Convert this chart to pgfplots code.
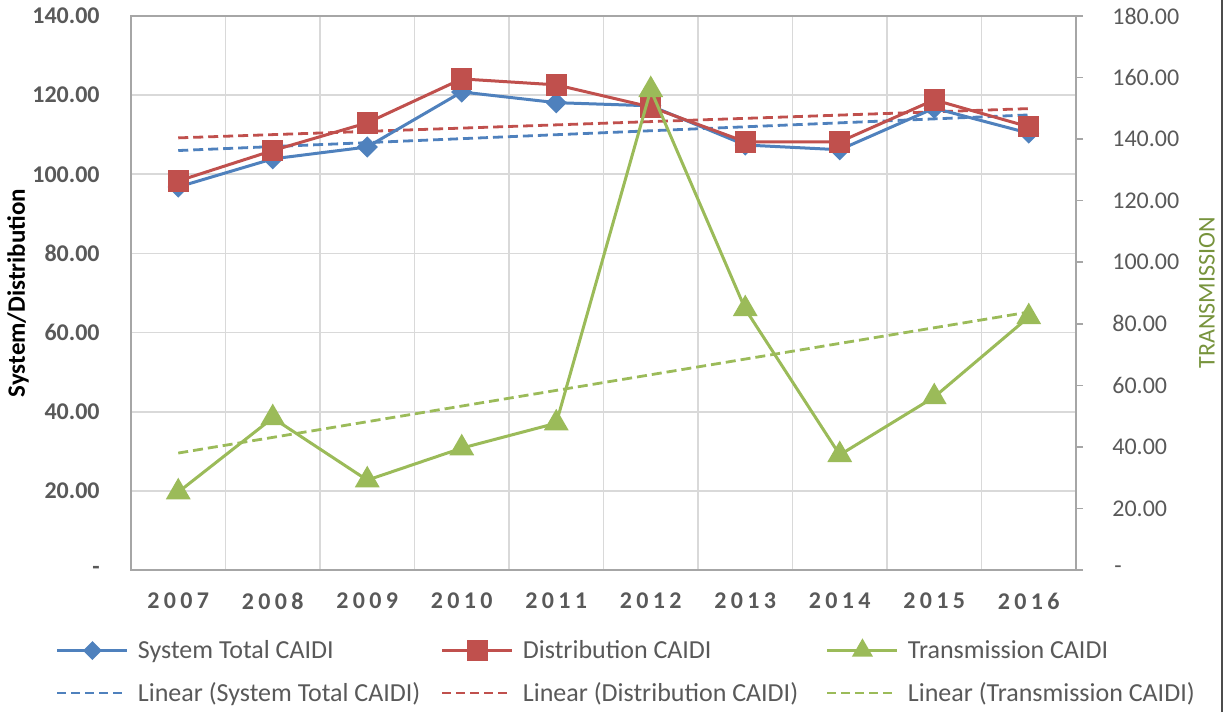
\documentclass[border=0pt]{standalone}
\usepackage{pgfplots}
\pgfplotsset{compat=1.18}
\usepackage{fontspec}
\setmainfont{Carlito}
\newfontfamily\xfont{Carlito}[LetterSpace=18]
\definecolor{cblue}{HTML}{4F81BD}
\definecolor{cred}{HTML}{C0504D}
\definecolor{cgreen}{HTML}{9BBB59}
\definecolor{ctitle}{HTML}{77933C}
\definecolor{ctext}{HTML}{595959}
\definecolor{cgrid}{HTML}{D9D9D9}
\definecolor{cframe}{HTML}{A6A6A6}
\newcommand{\lgd}[1]{\makebox[151.5pt][l]{#1}}
\begin{document}
\begin{tikzpicture}
\useasboundingbox (-65.5pt,-71pt) rectangle (547pt,285pt);
\pgfplotsset{
  base/.style={
    at={(0,0)}, anchor=south west,
    width=472.5pt, height=277pt, scale only axis,
    xmin=0.5, xmax=10.5,
    /pgf/number format/assume math mode=true,
  }
}
\begin{axis}[base,
  ymin=0, ymax=140,
  ytick={0,20,...,140},
  yticklabels={{-\hspace{6pt}},20.00,40.00,60.00,80.00,100.00,120.00,140.00},
  yticklabel style={anchor=east, inner sep=0pt, xshift=-15.5pt, font=\fontsize{12}{14}\selectfont\bfseries, text=ctext},
  xtick={1,...,10},
  xticklabels={2007,2008,2009,2010,2011,2012,2013,2014,2015,2016},
  xticklabel style={anchor=center, inner sep=0pt, yshift=-15.5pt, font=\fontsize{12}{14}\selectfont\xfont\bfseries, text=ctext},
  minor xtick={1.5,2.5,...,9.5},
  xminorgrids, ymajorgrids,
  major tick length=0pt, minor tick length=0pt,
  grid style={cgrid, line width=0.8pt},
  minor grid style={cgrid, line width=0.8pt},
  axis line style={cframe, line width=1.4pt},
  ylabel={System/Distribution},
  ylabel style={at={(axis description cs:-0.1196,0.5)}, anchor=center, font=\fontsize{12.5}{14}\selectfont\bfseries, text=black},
]
\addplot[cblue, line width=1.4pt, dash pattern=on 5pt off 2.5pt] coordinates {(1,106.0) (10,115.0)};
\addplot[cred, line width=1.4pt, dash pattern=on 5pt off 2.5pt] coordinates {(1,109.2) (10,116.6)};
\addplot[cblue, line width=1.5pt, mark=square*, mark size=3pt, mark options={rotate=45, solid, fill=cblue}] coordinates {
(1,96.8) (2,103.9) (3,106.9) (4,120.8) (5,118.1) (6,117.3) (7,107.4) (8,106.2) (9,116.7) (10,110.4)};
\addplot[cred, line width=1.5pt, mark=square*, mark size=4.6pt, mark options={solid, fill=cred}] coordinates {
(1,98.3) (2,106.0) (3,113.0) (4,124.1) (5,122.6) (6,117.0) (7,108.2) (8,108.2) (9,118.8) (10,112.0)};
\end{axis}
\begin{axis}[base,
  ymin=0, ymax=180,
  axis x line=none,
  axis y line*=right,
  ytick={0,20,...,180},
  yticklabels={{\hspace{1pt}-},20.00,40.00,60.00,80.00,100.00,120.00,140.00,160.00,180.00},
  yticklabel style={anchor=west, inner sep=0pt, xshift=14.5pt, font=\fontsize{12}{14}\selectfont, text=ctext},
  tick align=outside, major tick length=3.5pt,
  tick style={cframe, line width=0.8pt},
  axis line style={cframe, line width=1.4pt},
  ylabel={TRANSMISSION},
  ylabel style={at={(axis description cs:1.1386,0.5)}, anchor=center, font=\fontsize{12}{14}\selectfont, text=ctitle},
  legend columns=3,
  legend style={at={(-0.0794,-0.1264)}, anchor=north west, draw=none, fill=none,
    inner sep=0pt, outer sep=0pt,
    nodes={inner sep=0pt},
    font=\fontsize{13}{15}\selectfont, text=ctext,
    /tikz/every odd column/.append style={column sep=4.5pt},
    /tikz/every even column/.append style={column sep=0pt},
    row sep=10.5pt},
  legend cell align=left,
  legend image code/.code={
    \draw[#1] (0pt,0pt) -- (35pt,0pt);
    \draw[#1, mark repeat=2, mark phase=2] plot coordinates {(0pt,0pt) (17.5pt,0pt) (35pt,0pt)};
  },
]
\addlegendimage{cblue, line width=1.5pt, mark=square*, mark size=2.6pt, mark options={rotate=45, solid, fill=cblue}}
\addlegendentry{\lgd{System Total CAIDI}}
\addlegendimage{cred, line width=1.5pt, mark=square*, mark size=4.4pt, mark options={solid, fill=cred}}
\addlegendentry{\lgd{Distribution CAIDI}}
\addlegendimage{cgreen, line width=1.5pt, mark=triangle*, mark size=4.6pt, mark options={solid, fill=cgreen}}
\addlegendentry{\lgd{Transmission CAIDI}}
\addlegendimage{cblue, line width=1.4pt, dash pattern=on 4.5pt off 2.5pt}
\addlegendentry{\lgd{Linear (System Total CAIDI)}}
\addlegendimage{cred, line width=1.4pt, dash pattern=on 4.5pt off 2.5pt}
\addlegendentry{\lgd{Linear (Distribution CAIDI)}}
\addlegendimage{cgreen, line width=1.4pt, dash pattern=on 4.5pt off 2.5pt}
\addlegendentry{\lgd{Linear (Transmission CAIDI)}}
\addplot[forget plot, cgreen, line width=1.4pt, dash pattern=on 5pt off 2.5pt] coordinates {(1,38.0) (10,83.8)};
\addplot[forget plot, cgreen, line width=1.5pt, mark=triangle*, mark size=5.7pt, mark options={solid, fill=cgreen}] coordinates {
(1,25.3) (2,49.4) (3,29.2) (4,39.6) (5,47.7) (6,156.0) (7,84.8) (8,37.4) (9,56.2) (10,82.2)};
\end{axis}
\draw[gray!60!black, line width=1pt] (545.5pt,-71pt) -- (545.5pt,285pt);
\end{tikzpicture}
\end{document}
